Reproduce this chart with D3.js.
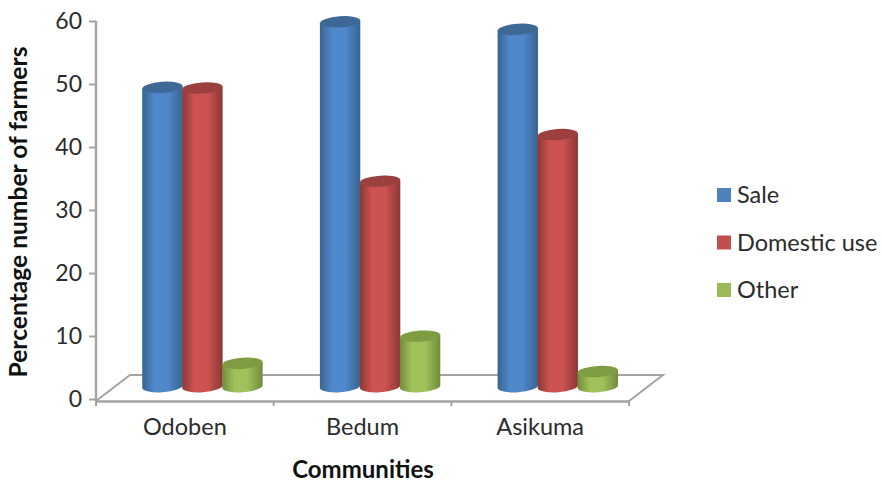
<!DOCTYPE html>
<html>
<head>
<meta charset="utf-8">
<script src="https://cdn.jsdelivr.net/npm/d3@7"></script>
<style>
html,body{margin:0;padding:0;background:#fff;}
svg{display:block;}
text{font-family:Lato,"Open Sans",sans-serif;fill:#2b2b2b;}
</style>
</head>
<body>
<svg id="chart" width="882" height="483"></svg>
<script>
const communities = ["Odoben", "Bedum", "Asikuma"];
const seriesNames = ["Sale", "Domestic use", "Other"];
const sale = [47.5, 57.9, 56.7];
const domestic = [47.4, 32.6, 40.0];
const other = [3.7, 8.0, 2.4];
const yTicks = [0, 10, 20, 30, 40, 50, 60];
const palette = [
  {mid: "#5088cc", edge: "#39648f", top: "#3e6896"},
  {mid: "#cd5350", edge: "#8a3836", top: "#9b403e"},
  {mid: "#a0c25b", edge: "#708c3b", top: "#7e9c42"}
];

const svg = d3.select("#chart");
const seriesValues = [sale, domestic, other];

// Oblique floor offsets: the floor recedes up and to the right.
const depthX = 34, depthY = 26, barShiftX = 17.6, barShiftY = 12.4;
const axisColor = "#a3a3a3";

const x = d3.scaleBand().domain(communities).range([96, 629]);
const y = d3.scaleLinear().domain([0, 60]).range([399, 21]);
const series = d3.scaleBand().domain(d3.range(3)).range([-60, 60]);

// Bar shading runs dark-light-dark across the width of each cylinder.
const defs = svg.append("defs");
palette.forEach((p, i) => {
  const g = defs.append("linearGradient").attr("id", "cyl" + i)
    .attr("x1", 0).attr("x2", 1).attr("y1", 0).attr("y2", 0);
  [[0, p.edge], [0.3, p.mid], [0.62, p.mid], [1, p.edge]]
    .forEach(([o, c]) => g.append("stop").attr("offset", o).attr("stop-color", c));
});

// Floor outline
const x0 = x.range()[0], x1 = x.range()[1], floorY = y(0) + 2;
svg.append("path")
  .attr("d", d3.line()([[x0, floorY], [x0 + depthX, floorY - depthY], [x1 + depthX, floorY - depthY], [x1, floorY]]))
  .attr("fill", "none").attr("stroke", axisColor).attr("stroke-width", 2);

// Axes
const yAxis = svg.append("g").attr("transform", `translate(${x0},0)`)
  .call(d3.axisLeft(y).tickValues(yTicks).tickSize(7).tickPadding(7));
const xAxis = svg.append("g").attr("transform", `translate(0,${floorY})`)
  .call(d3.axisBottom(x).tickSize(0).tickPadding(17));
xAxis.selectAll(".edge").data(d3.range(4)).enter().append("line")
  .attr("class", "edge")
  .attr("x1", i => x0 + i * x.bandwidth()).attr("x2", i => x0 + i * x.bandwidth())
  .attr("y1", 0).attr("y2", 5);
[yAxis, xAxis].forEach(a => {
  a.selectAll("path.domain").attr("stroke", axisColor).attr("stroke-width", 2.4);
  a.selectAll("line").attr("stroke", axisColor).attr("stroke-width", 2);
  a.selectAll("text").style("font-family", "Lato,sans-serif").style("fill", "#2b2b2b");
});
yAxis.selectAll("text").style("font-size", "23px");
xAxis.selectAll("text").style("font-size", "23.5px");
yAxis.select("path.domain").attr("d", `M0,${y(60)}V${floorY}`);

// Cylinders
const rx = 20.2, ry = 5.6, tilt = 1.4;
communities.forEach((c, ci) => {
  const cx = x(c) + x.bandwidth() / 2 + barShiftX;
  seriesValues.forEach((vals, si) => {
    const mid = cx + series(si) + series.bandwidth() / 2;
    const topY = y(vals[ci]) - barShiftY;
    const baseY = y(0) - barShiftY;
    const g = svg.append("g");
    g.append("path")
      .attr("d", `M${mid - rx},${topY + tilt}L${mid - rx},${baseY + tilt}` +
        `A${rx},${ry} -4 0 0 ${mid + rx},${baseY - tilt}L${mid + rx},${topY - tilt}Z`)
      .attr("fill", `url(#cyl${si})`);
    g.append("ellipse")
      .attr("rx", rx).attr("ry", ry)
      .attr("transform", `translate(${mid},${topY}) rotate(-4)`)
      .attr("fill", palette[si].top);
  });
});

// Axis titles
svg.append("text").attr("x", 363).attr("y", 478)
  .attr("text-anchor", "middle").attr("font-size", 24).attr("font-weight", 700)
  .style("fill", "#111").text("Communities");
svg.append("text").attr("transform", "translate(27,212) rotate(-90)")
  .attr("text-anchor", "middle").attr("font-size", 24.6).attr("font-weight", 700)
  .style("fill", "#111").text("Percentage number of farmers");

// Legend
const legendY = d3.scalePoint().domain(seriesNames).range([195, 290]);
seriesNames.forEach((name, i) => {
  svg.append("rect").attr("x", 717).attr("y", legendY(name) - 7)
    .attr("width", 14).attr("height", 14).attr("fill", ["#4f81bd", "#c0504d", "#9bbb59"][i]);
  svg.append("text").attr("x", 737).attr("y", legendY(name) + 8)
    .attr("font-size", 23.5).text(name);
});
</script>
</body>
</html>
